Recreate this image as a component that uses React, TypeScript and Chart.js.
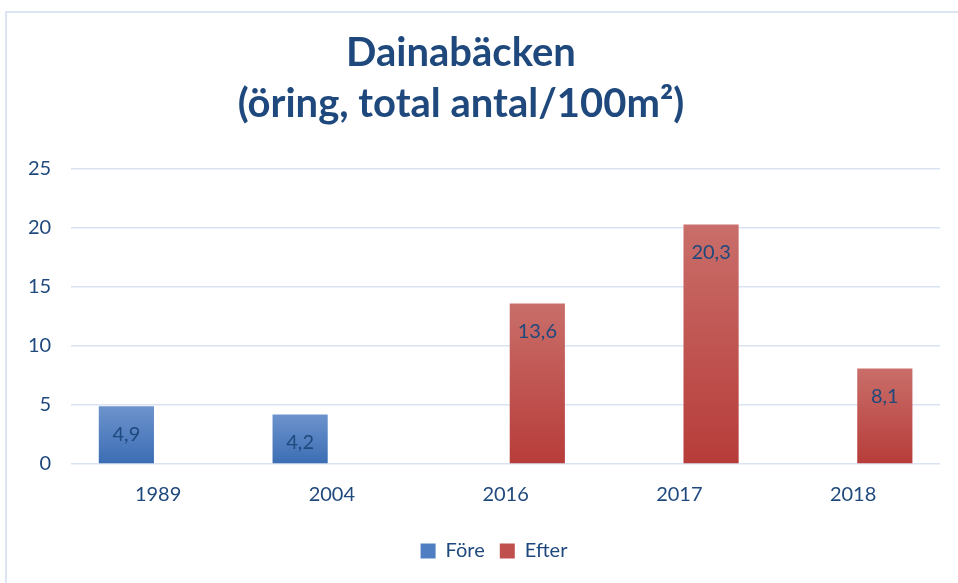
import React, { useEffect, useRef } from "react";
import { Chart, registerables } from "chart.js";

Chart.register(...registerables);

const categories = ["1989", "2004", "2016", "2017", "2018"];
const foreValues: (number | null)[] = [4.9, 4.2, null, null, null];
const efterValues: (number | null)[] = [null, null, 13.6, 20.3, 8.1];
const seriesNames = ["Före", "Efter"];
const titleLines = ["Dainabäcken", "(öring, total antal/100m²)"];
const yMin = 0;
const yMax = 25;
const yStep = 5;

const TEXT_COLOR = "#1f497d";
const FONT = "Lato, 'Open Sans', sans-serif";

const blueTop = "#6d93cc";
const blueBottom = "#3b6db4";
const redTop = "#c96e6a";
const redBottom = "#b73c39";

function gradientFill(top: string, bottom: string) {
  return (ctx: any) => {
    const chart = ctx.chart;
    const area = chart.chartArea;
    if (!area || ctx.type !== "data") return bottom;
    const v = ctx.raw;
    if (v == null) return bottom;
    const ys = chart.scales.y;
    const y0 = ys.getPixelForValue(0);
    const y1 = ys.getPixelForValue(v);
    if (!isFinite(y0) || !isFinite(y1) || y0 === y1) return bottom;
    const g = chart.ctx.createLinearGradient(0, y1, 0, y0);
    g.addColorStop(0, top);
    g.addColorStop(1, bottom);
    return g;
  };
}

const valueLabelPlugin = {
  id: "valueLabels",
  afterDatasetsDraw(chart: any) {
    const c = chart.ctx;
    c.save();
    c.font = `20px ${FONT}`;
    c.fillStyle = TEXT_COLOR;
    c.textAlign = "center";
    c.textBaseline = "middle";
    chart.data.datasets.forEach((ds: any, di: number) => {
      const meta = chart.getDatasetMeta(di);
      meta.data.forEach((el: any, i: number) => {
        const v = ds.data[i];
        if (v == null) return;
        const label = String(v).replace(".", ",");
        c.fillText(label, el.x, el.y + 28);
      });
    });
    c.restore();
  },
};

const legendShiftPlugin = {
  id: "legendShift",
  afterLayout(chart: any) {
    const l = chart.legend;
    if (!l) return;
    l.left += 20;
    l.right += 20;
  },
};

function ChartCanvas() {
  const ref = useRef<HTMLCanvasElement | null>(null);
  useEffect(() => {
    if (!ref.current) return;
    const chart = new Chart(ref.current, {
      type: "bar",
      data: {
        labels: categories,
        datasets: [
          {
            label: seriesNames[0],
            data: foreValues,
            backgroundColor: gradientFill(blueTop, blueBottom),
            categoryPercentage: 0.73,
            barPercentage: 0.87,
          },
          {
            label: seriesNames[1],
            data: efterValues,
            backgroundColor: gradientFill(redTop, redBottom),
            categoryPercentage: 0.73,
            barPercentage: 0.87,
          },
        ],
      },
      options: {
        responsive: false,
        animation: false,
        layout: { padding: { top: 169, left: 8, right: 18, bottom: 12 } },
        plugins: {
          title: { display: false },
          tooltip: { enabled: false },
          legend: {
            position: "bottom",
            labels: {
              color: TEXT_COLOR,
              font: { family: FONT, size: 20 },
              boxWidth: 15,
              boxHeight: 15,
              padding: 15,
              generateLabels: () => [
                { text: seriesNames[0], fillStyle: "#4f7fc2", strokeStyle: "rgba(0,0,0,0)", lineWidth: 0, datasetIndex: 0, fontColor: TEXT_COLOR },
                { text: seriesNames[1], fillStyle: "#c0504d", strokeStyle: "rgba(0,0,0,0)", lineWidth: 0, datasetIndex: 1, fontColor: TEXT_COLOR },
              ],
            },
          },
        },
        scales: {
          x: {
            grid: { display: false, drawTicks: false },
            border: { display: false },
            ticks: { color: TEXT_COLOR, font: { family: FONT, size: 20 }, padding: 19 },
          },
          y: {
            min: yMin,
            max: yMax,
            ticks: { stepSize: yStep, color: TEXT_COLOR, font: { family: FONT, size: 20 }, padding: 20 },
            grid: { color: "#d9e3f1", lineWidth: 1.5, drawTicks: false },
            border: { display: false },
          },
        },
      },
      plugins: [valueLabelPlugin, legendShiftPlugin],
    });
    return () => chart.destroy();
  }, []);
  return <canvas ref={ref} width={958} height={583} style={{ position: "absolute", left: 0, top: 0, width: 958, height: 583 }} />;
}

export default function App() {
  return (
    <div style={{ position: "absolute", left: 0, top: 0, width: 958, height: 583, overflow: "hidden", background: "#fff" }}>
      <div style={{ position: "absolute", left: 5, top: 11, width: 1100, height: 1100, border: "2px solid #dce6f2" }} />
      <ChartCanvas />
      <div
        style={{
          position: "absolute",
          left: 0,
          top: 26,
          width: 922,
          textAlign: "center",
          fontFamily: FONT,
          fontWeight: 700,
          fontSize: 40,
          lineHeight: "51px",
          color: TEXT_COLOR,
        }}
      >
        {titleLines.map((t, i) => (
          <div key={i}>{t}</div>
        ))}
      </div>
    </div>
  );
}
